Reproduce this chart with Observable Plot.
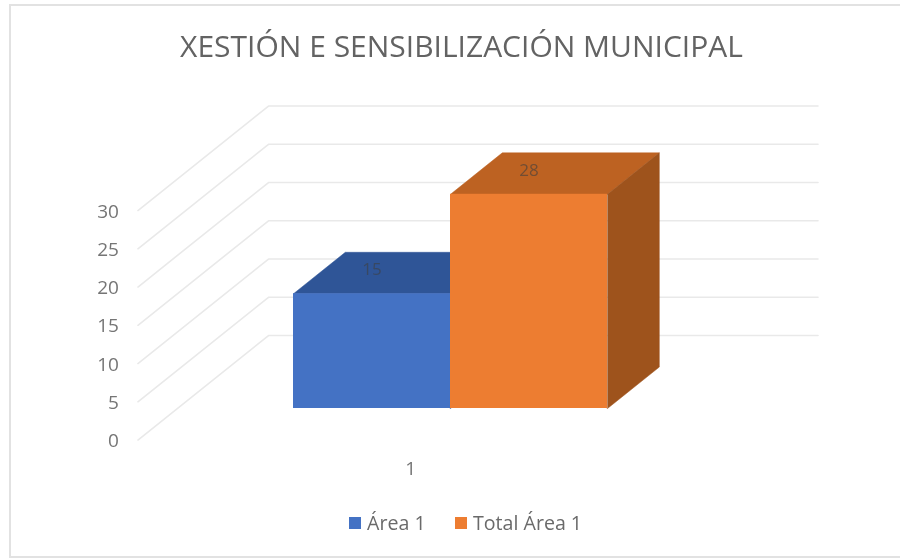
<!DOCTYPE html>
<html>
<head>
<meta charset="utf-8">
<script src="https://cdn.jsdelivr.net/npm/d3@7"></script>
<script src="https://cdn.jsdelivr.net/npm/@observablehq/plot@0.6"></script>
<style>
html,body{margin:0;padding:0;background:#fff;}
#chart{position:relative;width:900px;height:558px;overflow:hidden;font-family:"Open Sans",sans-serif;background:#fff;filter:blur(0.55px);}
#frame{position:absolute;left:9px;top:4px;width:900px;height:554px;border:2px solid #e2e2e2;box-sizing:border-box;}
#title{position:absolute;left:0;top:26px;width:923px;text-align:center;font-size:30px;line-height:40px;color:#636363;white-space:nowrap;}
#legend{position:absolute;left:349px;top:512px;font-size:19.6px;line-height:22px;color:#6a6a6a;white-space:nowrap;}
#legend span{position:absolute;top:0;}
#legend i{position:absolute;top:5px;width:12px;height:12px;}
svg{position:absolute;left:0;top:0;}
</style>
</head>
<body>
<div id="chart">
  <div id="frame"></div>
  <div id="plot"></div>
  <div id="title"></div>
  <div id="legend"></div>
</div>
<script>
const chartTitle = "XESTIÓN E SENSIBILIZACIÓN MUNICIPAL";
const seriesNames = ["Área 1", "Total Área 1"];
const seriesValues = [15, 28];
const category = "1";
const yTicks = [0, 5, 10, 15, 20, 25, 30];
const frontColors = ["#4472C4", "#ED7D31"];
const topColors = ["#2F5597", "#BD6222"];
const sideColors = ["#2A4C87", "#9E531C"];

// oblique projection of the 3D box: one depth unit shifts x and the value
const depthX = 0.33, depthV = 5.42;
const floorFront = -0.76, floorBack = 1.76, wallLeft = -0.74, wallRight = 2.76;
const px = (x, d) => x + d * depthX;
const pv = (v, d) => v + d * depthV;

const gridPts = yTicks.flatMap(t => [
  {t, x: px(wallLeft, floorFront), y: pv(t, floorFront)},
  {t, x: px(wallLeft, floorBack), y: pv(t, floorBack)},
  {t, x: px(wallRight, floorBack), y: pv(t, floorBack)}
]);

const face = (pts, fill) => Plot.line(pts.map(([x, v, d]) => ({x: px(x, d), y: pv(v, d)})), {
  x: "x", y: "y", fill, stroke: fill, strokeWidth: 0.5, curve: "linear-closed"
});

const bars = seriesValues.map((v, i) => ({i, v, x1: i, x2: i + 1}));
const tickX = px(wallLeft, floorFront);

const boxMarks = bars.flatMap(b => [
  face([[b.x1, b.v, 0], [b.x1, b.v, 1], [b.x2, b.v, 1], [b.x2, b.v, 0]], topColors[b.i]),
  face([[b.x2, 0, 0], [b.x2, 0, 1], [b.x2, b.v, 1], [b.x2, b.v, 0]], sideColors[b.i]),
  Plot.rect([b], {x1: "x1", x2: "x2", y1: 0, y2: "v", fill: frontColors[b.i]})
]);

const fig = Plot.plot({
  width: 900,
  height: 558,
  margin: 0,
  style: {background: "transparent", fontFamily: "'Open Sans',sans-serif"},
  x: {type: "linear", domain: [0, 2], range: [293, 607], axis: null},
  y: {type: "linear", domain: [0, 30], range: [408, 178.5], axis: null},
  marks: [
    Plot.line(gridPts, {x: "x", y: "y", z: "t", stroke: "#e9e9e9", strokeWidth: 1.6}),
    ...boxMarks,
    Plot.text(bars, {x: d => d.x1 + 0.5, y: "v", text: d => String(d.v), dy: -24, fontSize: 17, fill: "#404040", fillOpacity: 0.6}),
    Plot.text(yTicks, {x: tickX, y: d => pv(d, floorFront), text: d => String(d), textAnchor: "end", dx: -19, dy: 1, fontSize: 19, fill: "#757575"}),
    Plot.text([category], {x: (wallLeft + wallRight) / 2 + floorFront * depthX, y: 0, text: d => d, dy: 60, dx: -2, fontSize: 19, fill: "#757575"})
  ]
});
document.getElementById("plot").appendChild(fig);
document.getElementById("title").textContent = chartTitle;

const legend = document.getElementById("legend");
const legendPos = [[0, 18], [106, 124]];
seriesNames.forEach((name, i) => {
  const sw = document.createElement("i");
  sw.style.left = legendPos[i][0] + "px";
  sw.style.background = frontColors[i];
  legend.appendChild(sw);
  const s = document.createElement("span");
  s.style.left = legendPos[i][1] + "px";
  s.textContent = name;
  legend.appendChild(s);
});
</script>
</body>
</html>
